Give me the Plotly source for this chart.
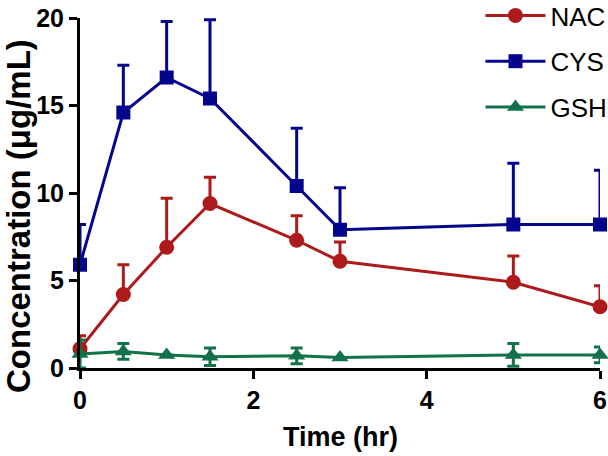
import plotly.graph_objects as go

time = [0, 0.5, 1, 1.5, 2.5, 3, 5, 6]

nac = [1.1, 4.2, 6.9, 9.4, 7.3, 6.1, 4.9, 3.5]
nac_err = [0.75, 1.7, 2.8, 1.5, 1.4, 1.1, 1.5, 1.2]

cys = [5.9, 14.6, 16.6, 15.4, 10.4, 7.9, 8.2, 8.2]
cys_err = [2.3, 2.7, 3.2, 4.5, 3.3, 2.4, 3.5, 3.1]

gsh = [0.8, 0.95, 0.75, 0.65, 0.7, 0.6, 0.75, 0.75]
gsh_err = [0.8, 0.45, 0.0, 0.5, 0.45, 0.0, 0.65, 0.45]

x_ticks = [0, 2, 4, 6]
y_ticks = [0, 5, 10, 15, 20]

c_nac = "#AD1A1C"
c_cys = "#04048C"
c_gsh = "#137148"

fig = go.Figure()


def add(name, y, err, color, symbol, size, sym_err):
    fig.add_trace(go.Scatter(
        x=time, y=y, name=name, mode="lines+markers",
        legendgroup=name,
        line=dict(color=color, width=3),
        marker=dict(color=color, symbol=symbol, size=size),
        error_y=dict(type="data", array=err,
                     arrayminus=err if sym_err else [0] * len(err),
                     symmetric=False, color=color, thickness=3, width=6),
        cliponaxis=False,
    ))


add("NAC", nac, nac_err, c_nac, "circle", 15, False)
add("CYS", cys, cys_err, c_cys, "square", 14, False)
add("GSH", gsh, gsh_err, c_gsh, "triangle-up", 15, True)

axis_common = dict(
    showline=True, linecolor="black", linewidth=3,
    ticks="outside", ticklen=8, tickwidth=3, tickcolor="black",
    showgrid=False, zeroline=False, automargin=False,
    tickfont=dict(family="Liberation Sans, Arial", size=25, color="black", weight="bold"),
)

fig.update_xaxes(range=[0, 6], tickvals=x_ticks, **axis_common)
fig.update_yaxes(range=[0, 20], tickvals=y_ticks, **axis_common)

fig.add_annotation(text="<b>Time (hr)</b>", xref="paper", yref="paper",
                   x=0.5, y=0, yshift=-69, xanchor="center", yanchor="middle",
                   showarrow=False,
                   font=dict(family="Liberation Sans, Arial", size=27, color="black"))
fig.add_annotation(text="<b>Concentration (μg/mL)</b>", xref="paper", yref="paper",
                   x=0, y=0.5, xshift=-62, yshift=-23, xanchor="center", yanchor="middle",
                   textangle=-90, showarrow=False,
                   font=dict(family="Liberation Sans, Arial", size=33, color="black"))

fig.update_layout(
    width=608, height=456,
    margin=dict(l=80, r=8, t=18, b=88, autoexpand=False),
    paper_bgcolor="white", plot_bgcolor="white",
    showlegend=True,
    legend=dict(xref="paper", yref="paper",
                x=1.024, y=1.0743, xanchor="right", yanchor="top",
                font=dict(family="Liberation Sans, Arial", size=26, color="black"),
                tracegroupgap=9, bgcolor="rgba(0,0,0,0)", itemwidth=60),
)

fig.write_html("out.html", config={"displayModeBar": False},
               post_script="document.body.style.margin='0px';")
